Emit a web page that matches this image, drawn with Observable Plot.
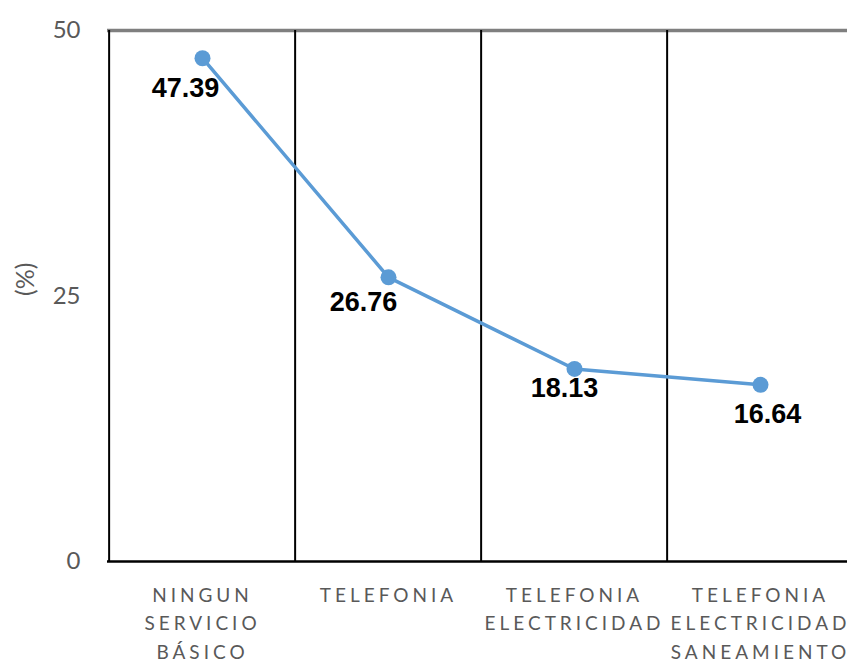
<!DOCTYPE html>
<html>
<head>
<meta charset="utf-8">
<script src="https://cdn.jsdelivr.net/npm/d3@7"></script>
<script src="https://cdn.jsdelivr.net/npm/@observablehq/plot@0.6"></script>
<style>
  body { margin: 0; background: #fff; }
  #chart { position: relative; width: 847px; height: 660px; }
</style>
</head>
<body>
<div id="chart"></div>
<script>
const categories = ["NINGUN\nSERVICIO\nBÁSICO", "TELEFONIA", "TELEFONIA\nELECTRICIDAD", "TELEFONIA\nELECTRICIDAD\nSANEAMIENTO"];
const values = [47.39, 26.76, 18.13, 16.64];
const yTicks = [0, 25, 50];
const yLabel = "(%)";

// label nudges (style, not data)
const labelNudge = [[-17, 30], [-25, 25], [-10, 19], [7, 30]];

const data = categories.map((c, i) => ({cat: c, v: values[i]}));
const xRange = [107, 854];
const bw = (xRange[1] - xRange[0]) / categories.length;
const blue = "#5B9BD5";
const grey = "#595959";

const labelMarks = data.map((d, i) => Plot.text([d], {
  x: "cat", y: "v", text: d => d.v.toFixed(2),
  dx: labelNudge[i][0], dy: labelNudge[i][1],
  fontSize: 27, fontWeight: "bold", fill: "#000",
  fontFamily: "Liberation Sans, Arial, sans-serif"
}));

const chart = Plot.plot({
  width: 847,
  height: 660,
  marginLeft: 107, marginRight: 0, marginTop: 30, marginBottom: 99,
  style: {fontFamily: "Lato, sans-serif", background: "#fff", overflow: "visible"},
  x: {type: "band", domain: categories, range: xRange, padding: 0, axis: null},
  y: {domain: [0, 50], range: [561, 30], axis: null},
  marks: [
    Plot.ruleY([50], {y: d => d, stroke: "#7f7f7f", strokeWidth: 3.5}),
    Plot.ruleX(categories, {x: d => d, y1: 0, y2: 50, dx: -bw / 2, stroke: "#000", strokeWidth: 2}),
    Plot.ruleY([0], {y: d => d, stroke: "#000", strokeWidth: 2.5}),
    Plot.axisY({ticks: yTicks, tickSize: 0, tickPadding: 27, fontSize: 24, color: grey, label: null}),
    Plot.axisX({tickSize: 0, tickPadding: 20, fontSize: 19, lineHeight: 1.5, color: grey, label: null}),
    Plot.line(data, {x: "cat", y: "v", stroke: blue, strokeWidth: 3.5}),
    Plot.dot(data, {x: "cat", y: "v", r: 8, fill: blue, stroke: null}),
    ...labelMarks,
    Plot.text([yLabel], {frameAnchor: "left", dx: -82, y: 25, text: d => d, rotate: -90, fontSize: 25, fill: grey})
  ]
});

d3.select(chart).selectAll('g[aria-label="x-axis tick label"] text').style("letter-spacing", "4px");
document.getElementById("chart").appendChild(chart);
</script>
</body>
</html>
